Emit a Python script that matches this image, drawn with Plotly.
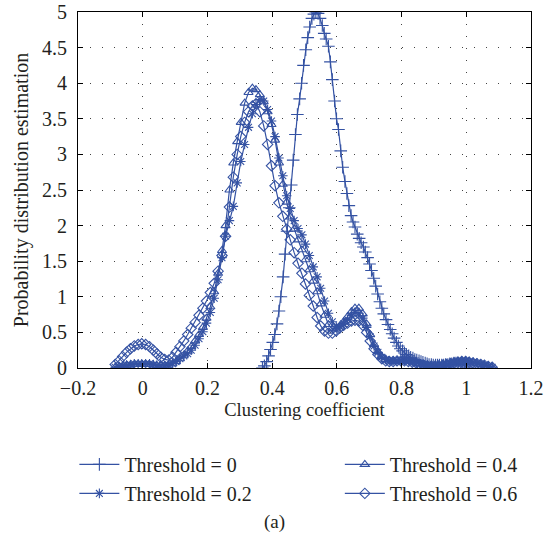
import plotly.graph_objects as go

# ---------------- data ----------------
# evaluation grid for threshold = 0 curve
x_t00 = [0.370, 0.376, 0.383, 0.389, 0.395, 0.402, 0.408, 0.415, 0.421, 0.427,
         0.434, 0.440, 0.446, 0.453, 0.459, 0.465, 0.472, 0.478, 0.485, 0.491,
         0.497, 0.504, 0.510, 0.516, 0.523, 0.529, 0.535, 0.542, 0.548, 0.555,
         0.561, 0.567, 0.574, 0.580, 0.586, 0.593, 0.599, 0.605, 0.612, 0.618,
         0.625, 0.631, 0.637, 0.644, 0.650, 0.656, 0.663, 0.669, 0.675, 0.682,
         0.688, 0.695, 0.701, 0.707, 0.714, 0.720, 0.726, 0.733, 0.739, 0.745,
         0.752, 0.758, 0.765, 0.771, 0.777, 0.784, 0.790, 0.796, 0.803, 0.809,
         0.815, 0.822, 0.828, 0.835, 0.841, 0.847, 0.854, 0.860, 0.866, 0.873,
         0.879, 0.885, 0.892, 0.898, 0.905, 0.911, 0.917, 0.924, 0.930, 0.936,
         0.943, 0.949, 0.955, 0.962, 0.968, 0.975, 0.981, 0.987, 0.994, 1.000]
y_t00 = [0.00, 0.03, 0.09, 0.17, 0.26, 0.36, 0.47, 0.62, 0.80, 1.00,
         1.28, 1.60, 1.92, 2.25, 2.57, 2.92, 3.28, 3.56, 3.78, 4.00,
         4.25, 4.47, 4.64, 4.79, 4.91, 4.97, 5.00, 4.98, 4.91, 4.81,
         4.70, 4.62, 4.52, 4.30, 4.05, 3.75, 3.50, 3.35, 3.05, 2.82,
         2.62, 2.45, 2.28, 2.14, 2.05, 1.98, 1.88, 1.82, 1.76, 1.70,
         1.63, 1.55, 1.46, 1.37, 1.26, 1.15, 1.04, 0.93, 0.84, 0.76,
         0.68, 0.61, 0.54, 0.48, 0.42, 0.36, 0.31, 0.27, 0.24, 0.21,
         0.19, 0.17, 0.15, 0.14, 0.12, 0.11, 0.10, 0.09, 0.08, 0.07,
         0.06, 0.05, 0.05, 0.04, 0.04, 0.04, 0.04, 0.04, 0.04, 0.05,
         0.05, 0.06, 0.06, 0.07, 0.07, 0.07, 0.06, 0.05, 0.03, 0.01]

# evaluation grid shared by thresholds 0.2, 0.4 and 0.6
x_grid = [-0.085, -0.073, -0.062, -0.050, -0.038, -0.026, -0.014, -0.003, 0.009, 0.021,
          0.033, 0.044, 0.056, 0.068, 0.080, 0.092, 0.103, 0.115, 0.127, 0.139,
          0.150, 0.162, 0.174, 0.186, 0.197, 0.209, 0.221, 0.233, 0.245, 0.256,
          0.268, 0.280, 0.292, 0.303, 0.315, 0.327, 0.339, 0.350, 0.362, 0.374,
          0.386, 0.398, 0.409, 0.421, 0.433, 0.445, 0.456, 0.468, 0.480, 0.492,
          0.503, 0.515, 0.527, 0.539, 0.550, 0.562, 0.574, 0.586, 0.598, 0.609,
          0.621, 0.633, 0.645, 0.656, 0.668, 0.680, 0.692, 0.703, 0.715, 0.727,
          0.739, 0.751, 0.762, 0.774, 0.786, 0.798, 0.809, 0.821, 0.833, 0.845,
          0.856, 0.868, 0.880, 0.892, 0.904, 0.915, 0.927, 0.939, 0.951, 0.962,
          0.974, 0.986, 0.998, 1.009, 1.021, 1.033, 1.045, 1.056, 1.068, 1.080]

y_t02 = [0.01, 0.02, 0.03, 0.04, 0.05, 0.06, 0.06, 0.06, 0.06, 0.06,
         0.05, 0.04, 0.03, 0.03, 0.04, 0.06, 0.09, 0.13, 0.17, 0.20,
         0.25, 0.32, 0.41, 0.51, 0.63, 0.78, 0.98, 1.24, 1.55, 1.85,
         2.07, 2.27, 2.60, 2.90, 3.14, 3.38, 3.57, 3.70, 3.77, 3.75,
         3.63, 3.47, 3.25, 2.95, 2.70, 2.42, 2.24, 2.07, 1.96, 1.87,
         1.74, 1.58, 1.42, 1.28, 1.12, 0.94, 0.77, 0.65, 0.58, 0.58,
         0.62, 0.68, 0.74, 0.78, 0.77, 0.70, 0.57, 0.44, 0.31, 0.22,
         0.15, 0.12, 0.10, 0.10, 0.10, 0.11, 0.11, 0.10, 0.09, 0.08,
         0.06, 0.05, 0.04, 0.03, 0.03, 0.03, 0.04, 0.05, 0.06, 0.08,
         0.09, 0.10, 0.10, 0.09, 0.08, 0.07, 0.05, 0.04, 0.02, 0.01]

y_t04 = [0.01, 0.02, 0.03, 0.04, 0.04, 0.05, 0.05, 0.05, 0.05, 0.05,
         0.04, 0.03, 0.03, 0.03, 0.04, 0.06, 0.09, 0.13, 0.18, 0.24,
         0.30, 0.38, 0.47, 0.57, 0.70, 0.86, 1.07, 1.33, 1.65, 2.00,
         2.50, 2.88, 3.18, 3.45, 3.72, 3.87, 3.93, 3.91, 3.84, 3.74,
         3.60, 3.42, 3.20, 2.88, 2.58, 2.33, 2.12, 1.95, 1.80, 1.66,
         1.52, 1.38, 1.22, 1.07, 0.90, 0.74, 0.61, 0.55, 0.55, 0.59,
         0.65, 0.72, 0.79, 0.84, 0.84, 0.76, 0.62, 0.47, 0.33, 0.23,
         0.16, 0.12, 0.10, 0.09, 0.10, 0.10, 0.10, 0.10, 0.09, 0.07,
         0.06, 0.05, 0.04, 0.03, 0.03, 0.03, 0.04, 0.05, 0.06, 0.07,
         0.08, 0.09, 0.10, 0.09, 0.08, 0.06, 0.05, 0.04, 0.02, 0.01]

y_t06 = [0.05, 0.10, 0.16, 0.22, 0.27, 0.31, 0.33, 0.34, 0.33, 0.30,
         0.25, 0.20, 0.15, 0.12, 0.11, 0.15, 0.22, 0.30, 0.38, 0.47,
         0.56, 0.64, 0.74, 0.84, 0.94, 1.06, 1.19, 1.36, 1.58, 1.85,
         2.26, 2.68, 3.00, 3.25, 3.45, 3.60, 3.68, 3.71, 3.60, 3.40,
         3.14, 2.84, 2.56, 2.32, 2.13, 1.95, 1.80, 1.62, 1.47, 1.33,
         1.18, 1.02, 0.87, 0.71, 0.59, 0.52, 0.49, 0.49, 0.52, 0.56,
         0.60, 0.63, 0.66, 0.67, 0.66, 0.60, 0.50, 0.38, 0.27, 0.19,
         0.13, 0.10, 0.09, 0.09, 0.10, 0.10, 0.10, 0.09, 0.08, 0.07,
         0.05, 0.04, 0.03, 0.03, 0.03, 0.03, 0.04, 0.05, 0.06, 0.07,
         0.08, 0.09, 0.09, 0.08, 0.07, 0.06, 0.05, 0.04, 0.02, 0.01]

series_names = ["Threshold = 0", "Threshold = 0.2", "Threshold = 0.4", "Threshold = 0.6"]

x_tickvals = [-0.2, 0, 0.2, 0.4, 0.6, 0.8, 1.0, 1.2]
x_ticktext = ["\u22120.2", "0", "0.2", "0.4", "0.6", "0.8", "1", "1.2"]
y_tickvals = [0, 0.5, 1, 1.5, 2, 2.5, 3, 3.5, 4, 4.5, 5]
y_ticktext = ["0", "0.5", "1", "1.5", "2", "2.5", "3", "3.5", "4", "4.5", "5"]

# ---------------- figure ----------------
BLUE = "#3452a3"
FONT = "Liberation Serif"
TXT = "#231f20"

series = [
    (series_names[0], x_t00, y_t00, "cross-thin-open", 9, "legend"),
    (series_names[1], x_grid, y_t02, "asterisk-open", 8, "legend"),
    (series_names[2], x_grid, y_t04, "triangle-up-open", 8, "legend2"),
    (series_names[3], x_grid, y_t06, "diamond-open", 8, "legend2"),
]

fig = go.Figure()
for name, xs, ys, sym, size, lg in series:
    fig.add_trace(go.Scatter(
        x=xs, y=ys, name=name, mode="lines+markers",
        line=dict(color=BLUE, width=1.2),
        marker=dict(symbol=sym, size=size, color=BLUE,
                    line=dict(color=BLUE, width=1.1)),
        legend=lg,
    ))

axis_common = dict(
    showline=True, linecolor="black", linewidth=1, mirror="ticks",
    ticks="inside", ticklen=5, tickcolor="black", tickwidth=1,
    showgrid=True, gridcolor="#444444", gridwidth=1, griddash="1px,11px",
    zeroline=False, automargin=False, ticklabeloverflow="allow",
    tickfont=dict(family=FONT, size=20, color=TXT),
)

fig.update_xaxes(range=[-0.2, 1.2], tickvals=x_tickvals, ticktext=x_ticktext,
                 title_text="Clustering coefficient", title_standoff=5,
                 title_font=dict(family=FONT, size=18.5, color=TXT),
                 ticklabelstandoff=2, **axis_common)
fig.update_yaxes(range=[0, 5], tickvals=y_tickvals, ticktext=y_ticktext,
                 title_text="Probability distribution estimation", title_standoff=8,
                 title_font=dict(family=FONT, size=20, color=TXT),
                 ticklabelstandoff=6, **axis_common)

legend_common = dict(orientation="v", yanchor="top", y=-0.216, xanchor="left",
                     font=dict(family=FONT, size=20, color=TXT),
                     itemwidth=40, bgcolor="rgba(0,0,0,0)", tracegroupgap=0)

fig.update_layout(
    width=549, height=548,
    margin=dict(l=78, r=18, t=12, b=180, autoexpand=False),
    paper_bgcolor="white", plot_bgcolor="white",
    showlegend=True,
    legend=dict(x=-0.008, **legend_common),
    legend2=dict(x=0.578, **legend_common),
    annotations=[dict(text="(a)", xref="paper", yref="paper", x=0.433, y=-0.433,
                      xanchor="center", yanchor="middle", showarrow=False,
                      font=dict(family=FONT, size=19, color=TXT))],
)

# remove the default 8px page margin so the figure fills the window exactly
fig.write_html("out.html",
               config={"displayModeBar": False},
               post_script="document.body.style.margin='0px';"
                           "document.body.style.overflow='hidden';")
